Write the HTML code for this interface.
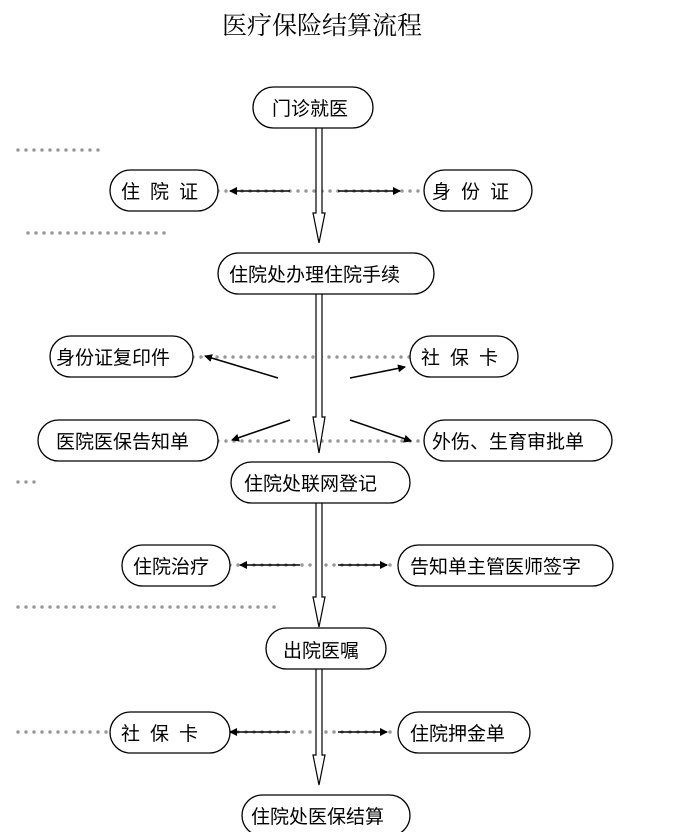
<!DOCTYPE html>
<html><head><meta charset="utf-8"><style>
body{margin:0;background:#fff;width:680px;height:832px;overflow:hidden}
svg text{font-family:"Liberation Sans","Noto Sans CJK SC",sans-serif;font-size:19px;fill:#000}
</style></head><body>
<svg width="680" height="832" viewBox="0 0 680 832" xmlns="http://www.w3.org/2000/svg">
<defs>
<marker id="ah" markerWidth="8" markerHeight="8" refX="7" refY="4" orient="auto" markerUnits="userSpaceOnUse">
<path d="M0,0 L8,4 L0,8 Z" fill="#000"/></marker>
</defs>
<text x="322" y="34" text-anchor="middle" style="font-size:25px;font-family:'Liberation Serif','Noto Serif CJK SC',serif">医疗保险结算流程</text>
<g stroke="#999" stroke-width="3.5" stroke-dasharray="0 8" stroke-linecap="round" fill="none">
<line x1="18" y1="150" x2="105" y2="150"/>
<line x1="28" y1="233" x2="172" y2="233"/>
<line x1="218" y1="191" x2="424" y2="191"/>
<line x1="193" y1="357" x2="410" y2="357"/>
<line x1="218" y1="441" x2="424" y2="441"/>
<line x1="18" y1="482" x2="40" y2="482"/>
<line x1="230" y1="565" x2="398" y2="565"/>
<line x1="18" y1="607" x2="280" y2="607"/>
<line x1="18" y1="732" x2="110" y2="732"/>
<line x1="230" y1="732" x2="398" y2="732"/>
</g>
<g stroke="#000" stroke-width="1.5" fill="none">
<line x1="290" y1="191" x2="230" y2="191" marker-end="url(#ah)"/>
<line x1="338" y1="191" x2="400" y2="191" marker-end="url(#ah)"/>
<line x1="300" y1="565" x2="240" y2="565" marker-end="url(#ah)"/>
<line x1="338" y1="565" x2="387" y2="565" marker-end="url(#ah)"/>
<line x1="290" y1="732" x2="230" y2="732" marker-end="url(#ah)"/>
<line x1="338" y1="732" x2="387" y2="732" marker-end="url(#ah)"/>
<line x1="278" y1="378" x2="205" y2="356" marker-end="url(#ah)"/>
<line x1="350" y1="378" x2="405" y2="367" marker-end="url(#ah)"/>
<line x1="290" y1="420" x2="232" y2="440" marker-end="url(#ah)"/>
<line x1="350" y1="420" x2="411" y2="441" marker-end="url(#ah)"/>
</g>
<g stroke="#000" stroke-width="1.2" fill="#fff">
<path d="M316 128 V213 H313 L319 243 L325 213 H322 V128"/>
<path d="M316 294 V417 H313 L319 453 L325 417 H322 V294"/>
<path d="M316 503 V597 H313 L319 627 L325 597 H322 V503"/>
<path d="M316 669 V755 H313 L319 785 L325 755 H322 V669"/>
</g>
<g stroke="#000" stroke-width="1.3" fill="#fff">
<rect x="253" y="87" width="120" height="41" rx="20.5"/>
<rect x="110" y="170" width="108" height="41" rx="20.5"/>
<rect x="424" y="170" width="108" height="41" rx="20.5"/>
<rect x="218" y="253" width="216" height="41" rx="20.5"/>
<rect x="50" y="336" width="143" height="41" rx="20.5"/>
<rect x="410" y="336" width="108" height="41" rx="20.5"/>
<rect x="38" y="420" width="180" height="41" rx="20.5"/>
<rect x="424" y="420" width="188" height="41" rx="20.5"/>
<rect x="231" y="462" width="179" height="41" rx="20.5"/>
<rect x="122" y="545" width="108" height="41" rx="20.5"/>
<rect x="398" y="545" width="215" height="41" rx="20.5"/>
<rect x="266" y="628" width="120" height="41" rx="20.5"/>
<rect x="110" y="712" width="120" height="41" rx="20.5"/>
<rect x="398" y="712" width="132" height="41" rx="20.5"/>
<rect x="242" y="795" width="168" height="41" rx="20.5"/>
</g>
<g>
<text x="272" y="115">门诊就医</text>
<text x="121" y="198" letter-spacing="10">住院证</text>
<text x="432" y="198" letter-spacing="10">身份证</text>
<text x="229" y="281">住院处办理住院手续</text>
<text x="56" y="364">身份证复印件</text>
<text x="421" y="364" letter-spacing="10">社保卡</text>
<text x="56" y="448">医院医保告知单</text>
<text x="432" y="448">外伤、生育审批单</text>
<text x="244" y="490">住院处联网登记</text>
<text x="133" y="573">住院治疗</text>
<text x="410" y="573">告知单主管医师签字</text>
<text x="283" y="657">出院医嘱</text>
<text x="121" y="740" letter-spacing="10">社保卡</text>
<text x="410" y="740">住院押金单</text>
<text x="251" y="823">住院处医保结算</text>
</g>
</svg>
</body></html>
